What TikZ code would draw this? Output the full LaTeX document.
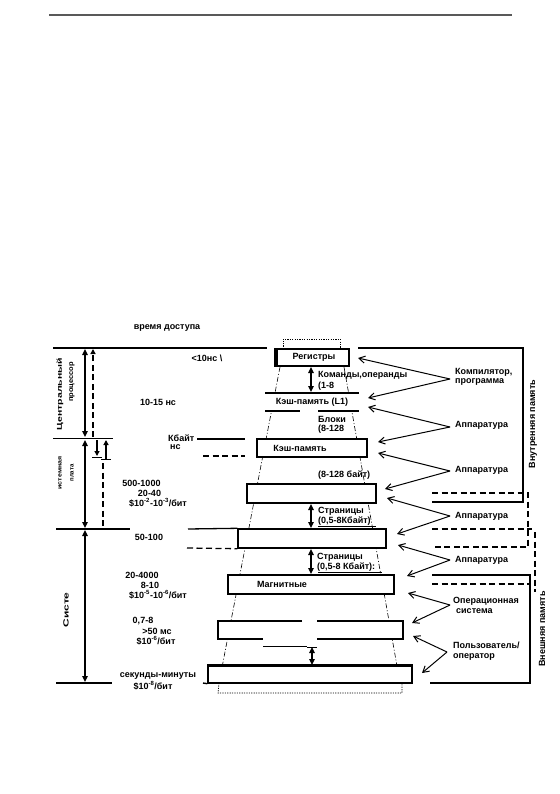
\documentclass[tikz,border=0pt]{standalone}
\usepackage{fontspec}
\setmainfont{Liberation Sans}
\usetikzlibrary{arrows.meta}
\begin{document}
\begin{tikzpicture}[x=1pt,y=-1pt,
  lbl/.style={font=\fontsize{9}{10}\selectfont\bfseries, inner sep=0pt},
  lblw/.style={lbl, anchor=west},
  rot/.style={rotate=90, inner sep=0pt},
  rule/.style={line width=1.3pt},
  boxs/.style={draw, line width=1.4pt, fill=white, inner sep=0pt},
  dbl/.style={line width=1.4pt, {Triangle[length=6pt,width=5.5pt]}-{Triangle[length=6pt,width=5.5pt]}},
  uptip/.style={-{Triangle[length=5pt,width=5pt]}},
  ptr/.style={line width=1pt, -{Straight Barb[length=6pt,width=7pt]}},
  trap/.style={line width=0.6pt, dash pattern=on 5pt off 2pt on 1pt off 2pt},
  dsh/.style={line width=1.3pt, dash pattern=on 6pt off 3.5pt},
  dots/.style={line width=0.8pt, dash pattern=on 1.2pt off 1.2pt},
]
\useasboundingbox (0,0) rectangle (559,794);
\fill[white] (0,0) rectangle (559,794);

% top rule
\draw[line width=1.2pt, black!65] (49,15) -- (512,15);

\node[lbl] (hdr) at (167,328) {время доступа};

% trapezoid outline
\draw[dots] (283,349) -- (283,339) -- (340,339) -- (340,349);
\draw[trap] (280,367) -- (219,683);
\draw[trap] (344,367) -- (400,683);
\draw[dots] (219,683) -- (218,693) -- (402,693) -- (402,683);

% registers
\node[boxs, minimum width=74pt, minimum height=17pt] (reg) at (312,357.5) {};
\fill (reg.north west) rectangle ++(3.5,17);
\node[lbl] (regt) at (314,357.5) {Регистры};

% L1
\fill[white] (265,393) rectangle (359,411);
\draw[line width=2pt] (265,393) -- (359,393);
\draw[line width=2pt] (265,411) -- (300,411) (318,411) -- (359,411);
\node[lbl] (l1) at (312,402) {Кэш-память (L1)};

% L2
\node[boxs, minimum width=110pt, minimum height=18pt] (c2) at (312,448) {};
\node[lbl] (c2t) at (300,448) {Кэш-память};

% main memory boxes
\node[boxs, minimum width=129pt, minimum height=19pt] (mm) at (311.5,493.5) {};
\node[boxs, minimum width=148pt, minimum height=19pt] (m5) at (312,538.5) {};
\node[boxs, minimum width=166pt, minimum height=19pt] (mag) at (311,584.5) {};
\node[lbl] (magt) at (282,584.5) {Магнитные};

% disk box with gaps
\fill[white] (218,621) rectangle (403,639);
\draw[line width=1.4pt] (302,621) -- (218,621) -- (218,639) -- (263,639);
\draw[line width=1.4pt] (317,621) -- (403,621) -- (403,639) -- (317,639);
\draw[line width=0.8pt] (263,646) -- (307,646);

% bottom box
\node[boxs, minimum width=204pt, minimum height=17pt] (bt) at (310,674.5) {};
\draw[line width=2.2pt] (bt.north west) -- (bt.north east);
\draw[line width=1.4pt] (203,683) -- (bt.south west);

% vertical double arrows
\draw[dbl] (311,367) -- (311,392);
\draw[dbl] (311,504) -- (311,528);
\draw[dbl] (311,549) -- (311,574);
\draw[dbl] (312,647) -- (312,665);
\draw[line width=1pt] (307,647) -- (317,647);

% texts in the stack
\node[lblw] (t1) at (318,375) {Команды,операнды};
\node[lblw] (t2) at (318,386) {(1-8};
\node[lblw] (t3) at (318,419) {Блоки};
\node[lblw] (t4) at (318,429) {(8-128};
\node[lblw] (t5) at (318,475) {(8-128 байт)};
\node[lblw] (t6) at (318,511) {Страницы};
\node[lblw] (t7) at (318,521) {(0,5-8Кбайт)};
\draw[line width=0.6pt] (318,526.5) -- (376,526.5);
\node[lblw] (t8) at (317,557) {Страницы};
\node[lblw] (t9) at (317,567) {(0,5-8 Кбайт):};
\draw[line width=0.6pt] (318,572.5) -- (382,572.5);

% left texts
\node[lbl] (a1) at (207,358) {<10нс \textbackslash};
\node[lbl] (a2) at (158,402) {10-15 нс};
\node[lblw] (a3) at (168,438) {Кбайт};
\draw[rule] (197,439) -- (245,439);
\node[lblw] (a4) at (170,447) {нс};
\draw[dsh] (203,456) -- (245,456);
\node[lbl] (b1) at (141.5,483) {500-1000};
\node[lbl] (b2) at (149.5,493) {20-40};
\node[lbl] (b3) at (158,503) {\$10\textsuperscript{-2}-10\textsuperscript{-3}/бит};
\node[lbl] (c1) at (149,537) {50-100};
\node[lbl] (d1) at (142,575) {20-4000};
\node[lbl] (d2) at (150,585) {8-10};
\node[lbl] (d3) at (158,595) {\$10\textsuperscript{-5}-10\textsuperscript{-6}/бит};
\node[lbl] (e1) at (143,621) {0,7-8};
\node[lbl] (e2) at (157,631) {>50 мс};
\node[lbl] (e3) at (156,641) {\$10\textsuperscript{-6}/бит};
\node[lbl] (f1) at (158,676) {секунды-минуты};
\node[lbl] (f2) at (153,686) {\$10\textsuperscript{-8}/бит};

% left ruler
\draw[rule] (53,348) -- (267,348);
\draw[rule] (53,438.5) -- (113,438.5);
\draw[rule] (56,529) -- (130,529);
\draw[rule] (188,529) -- (m5.north west);
\draw[dsh] (187,548) -- (m5.south west);
\draw[rule] (56,683) -- (112,683);
\draw[dbl] (85,349) -- (85,437);
\draw[dbl] (85,440) -- (85,528);
\draw[dbl] (85,530) -- (85,682);
\draw[dsh, uptip] (93,437) -- (93,349);
\draw[line width=1.2pt, uptip] (97,440) -- (97,456);
\draw[line width=1pt] (92,457) -- (102,457);
\draw[line width=1.2pt, uptip] (106,459) -- (106,440);
\draw[line width=1pt] (101,459) -- (111,459);
\draw[dsh] (103,463) -- (103,528);

\node[rot, font=\fontsize{7}{8}\selectfont\bfseries] (cpu1) at (60,394) {\scalebox{1.5}[1]{Центральный}};
\node[rot, font=\fontsize{7}{8}\selectfont\bfseries] (cpu2) at (72,382) {\scalebox{1.07}[1]{процессор}};
\node[rot, font=\fontsize{6}{7}\selectfont\bfseries] (sb1) at (60,473) {\scalebox{1.17}[1]{истемная}};
\node[rot, font=\fontsize{6}{7}\selectfont\bfseries] (sb2) at (72,473) {плата};
\node[rot, font=\fontsize{7.5}{8}\selectfont\bfseries] (sy) at (66,610) {\scalebox{1.6}[1]{Систе}};

% right brackets
\draw[rule] (358,348) -- (523,348) -- (523,502) -- (432,502);
\draw[dsh] (432,493) -- (528,493) -- (528,547) -- (432,547);
\draw[dsh] (432,529) -- (532,529);
\draw[dsh] (535,532) -- (535,592);
\draw[rule] (432,575) -- (530,575) -- (530,683) -- (430,683);
\draw[dsh] (432,584) -- (530,584);
\node[rot, lbl] (vm) at (533,424) {Внутренняя память};
\node[rot, lbl] (em) at (542,629) {Внешняя память};

% right labels and pointers
\node[lblw] (k1) at (455,372) {Компилятор,};
\node[lblw] (k2) at (455,382) {программа};
\coordinate (s1) at (450,379);
\draw[ptr] (s1) -- (358,358);
\draw[ptr] (s1) -- (368,398);

\node[lblw] (h1) at (455,425) {Аппаратура};
\coordinate (s2) at (450,427);
\draw[ptr] (s2) -- (368,407);
\draw[ptr] (s2) -- (378,442);

\node[lblw] (h2) at (455,470) {Аппаратура};
\coordinate (s3) at (450,471);
\draw[ptr] (s3) -- (378,453);
\draw[ptr] (s3) -- (385,489);

\node[lblw] (h3) at (455,516) {Аппаратура};
\coordinate (s4) at (450,516);
\draw[ptr] (s4) -- (387,498);
\draw[ptr] (s4) -- (397,534);

\node[lblw] (h4) at (455,560) {Аппаратура};
\coordinate (s5) at (450,560);
\draw[ptr] (s5) -- (398,545);
\draw[ptr] (s5) -- (407,576);

\node[lblw] (o1) at (453,601) {Операционная};
\node[lblw] (o2) at (456,611) {система};
\coordinate (s6) at (450,605);
\draw[ptr] (s6) -- (408,593);
\draw[ptr] (s6) -- (412,623);

\node[lblw] (p1) at (453,645) {Пользователь/};
\node[lblw] (p2) at (453,656.5) {оператор};
\coordinate (s7) at (447,652);
\draw[ptr] (s7) -- (413,636);
\draw[ptr] (s7) -- (422,673);
\end{tikzpicture}
\end{document}
